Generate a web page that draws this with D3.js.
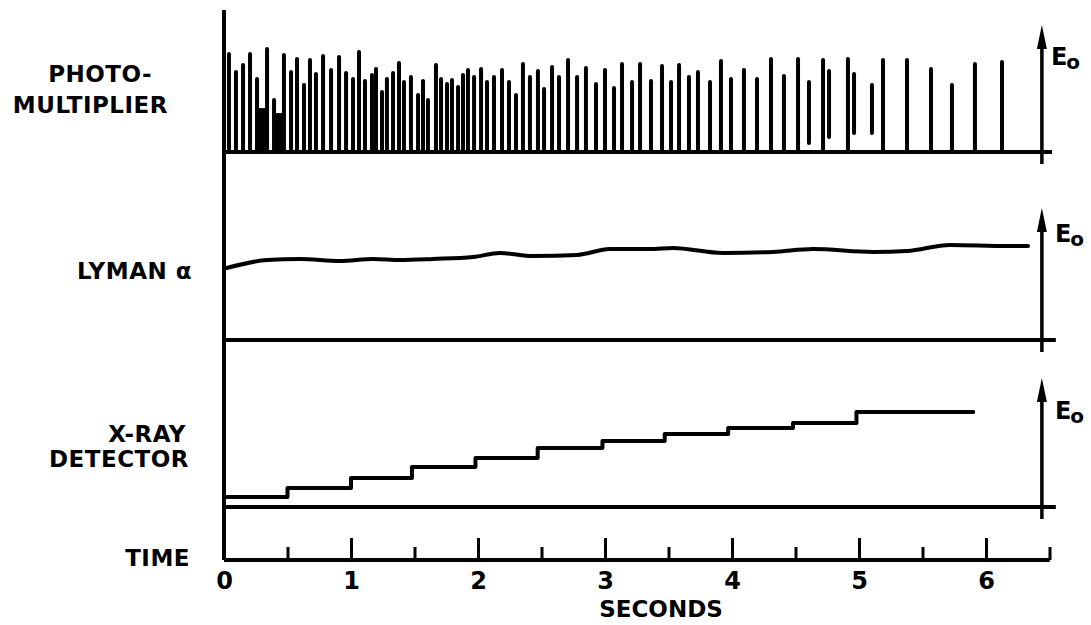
<!DOCTYPE html>
<html>
<head>
<meta charset="utf-8">
<script src="https://cdn.jsdelivr.net/npm/d3@7/dist/d3.min.js"></script>
<style>
  html, body { margin: 0; padding: 0; background: #fff; }
  svg { display: block; }
  text { font-family: "DejaVu Sans", "Liberation Sans", sans-serif; font-weight: bold; fill: #000; }
</style>
</head>
<body>
<svg id="chart" width="1091" height="625"></svg>
<script>
// ---------- DATA ----------
// Photomultiplier pulses: time (s), pulse top (fraction of E0)
const pmTimes = [0.039,0.094,0.150,0.205,0.260,0.276,0.291,0.307,0.323,0.339,0.394,0.417,0.433,0.449,0.465,
  0.472,0.528,0.575,0.630,0.677,0.724,0.780,0.843,0.906,0.961,1.016,1.063,1.110,1.165,1.197,1.244,1.283,1.331,
  1.378,1.417,1.472,1.528,1.567,1.606,1.669,1.709,1.756,1.795,1.843,1.882,1.921,1.969,2.024,2.071,2.126,2.189,
  2.244,2.299,2.354,2.409,2.472,2.520,2.583,2.638,2.709,2.780,2.850,2.929,3.000,3.071,3.134,3.213,3.276,3.362,
  3.449,3.520,3.583,3.661,3.732,3.827,3.913,3.992,4.094,4.197,4.307,4.409,4.520,4.717,4.913,5.189,5.378,5.567,
  5.732,5.913,6.126];
const pmHeights = [0.787,0.646,0.701,0.787,0.591,0.346,0.346,0.346,0.346,0.827,0.425,0.307,0.307,0.307,0.307,
  0.780,0.646,0.748,0.543,0.740,0.630,0.772,0.661,0.764,0.638,0.591,0.803,0.575,0.622,0.669,0.488,0.591,0.638,
  0.717,0.567,0.606,0.465,0.575,0.425,0.701,0.591,0.551,0.583,0.528,0.622,0.661,0.606,0.669,0.567,0.606,0.661,
  0.567,0.465,0.709,0.606,0.654,0.512,0.685,0.606,0.740,0.606,0.677,0.551,0.661,0.520,0.709,0.567,0.709,0.575,
  0.693,0.567,0.701,0.606,0.646,0.567,0.732,0.591,0.661,0.591,0.748,0.614,0.748,0.740,0.748,0.740,0.740,0.669,
  0.543,0.709,0.724];
// Detached (floating) pulse traces: time, top, bottom (fraction of E0)
const pmFloatTimes = [4.606, 4.764, 4.961, 5.102];
const pmFloatTops = [0.551, 0.638, 0.614, 0.528];
const pmFloatBottoms = [0.071, 0.118, 0.150, 0.150];

// Lyman alpha signal
const lyTimes = [0.02,0.339,0.598,0.913,1.173,1.386,1.646,1.961,2.173,2.433,2.780,3.039,3.354,3.535,3.929,
  4.323,4.638,5.110,5.378,5.717,6.165,6.331];
const lyValues = [0.545,0.606,0.614,0.598,0.614,0.606,0.614,0.629,0.659,0.636,0.644,0.689,0.689,0.697,0.659,
  0.667,0.689,0.667,0.674,0.720,0.712,0.712];

// X-ray detector staircase: level start times and levels
const xrTimes = [0.02,0.50,1.00,1.48,1.98,2.47,2.98,3.47,3.97,4.48,4.98,5.90];
const xrValues = [0.078,0.147,0.225,0.310,0.380,0.457,0.512,0.566,0.612,0.651,0.736,0.736];

// Time axis
const majorTicks = [0,1,2,3,4,5,6];
const minorTicks = [0.5,1.5,2.5,3.5,4.5,5.5,6.5];
const tickLabels = ["0","1","2","3","4","5","6"];

const E0_TIME = 6.44;

// ---------- SCALES ----------
const svg = d3.select("#chart");
const x = d3.scaleLinear().domain([0, 6.5]).range([224, 1049.5]);
const yPM = d3.scaleLinear().domain([0, 1]).range([152, 25]);
const yLY = d3.scaleLinear().domain([0, 1]).range([340, 208]);
const yXR = d3.scaleLinear().domain([0, 1]).range([507, 378]);
const axisY = 560;

const ink = "#000";

// main vertical line
svg.append("line").attr("x1", x(0)).attr("x2", x(0)).attr("y1", 10).attr("y2", axisY)
  .attr("stroke", ink).attr("stroke-width", 4);

// panel baselines
[[yPM, 6.52],[yLY, 6.55],[yXR, 6.55]].forEach(([ys, tEnd]) => {
  svg.append("line").attr("x1", x(0)).attr("x2", x(tEnd)).attr("y1", ys(0)).attr("y2", ys(0))
    .attr("stroke", ink).attr("stroke-width", 4);
});

// E0 arrows
function e0Arrow(ys, textDx, textBaselineOffset) {
  const ax = x(E0_TIME);
  const tip = ys(1);
  svg.append("line").attr("x1", ax).attr("x2", ax).attr("y1", tip + 15).attr("y2", ys(0) + 12)
    .attr("stroke", ink).attr("stroke-width", 3.5);
  svg.append("path")
    .attr("d", `M${ax},${tip} L${ax - 5},${tip + 24} L${ax + 5},${tip + 24} Z`)
    .attr("fill", ink);
  const t = svg.append("text").attr("x", ax + textDx).attr("y", tip + textBaselineOffset)
    .attr("font-size", 24);
  t.append("tspan").text("E");
  t.append("tspan").attr("dy", 4).attr("dx", -1).attr("font-size", 20).text("o");
}
e0Arrow(yPM, 9, 40);
e0Arrow(yLY, 13, 34);
e0Arrow(yXR, 13, 41);

// photomultiplier pulses
const pm = pmTimes.map((t, i) => ({t, v: pmHeights[i]}));
svg.append("g").selectAll("line").data(pm).join("line")
  .attr("x1", d => x(d.t)).attr("x2", d => x(d.t))
  .attr("y1", yPM(0)).attr("y2", d => yPM(d.v) + 2)
  .attr("stroke", ink).attr("stroke-width", 4).attr("stroke-linecap", "round");
const pmf = pmFloatTimes.map((t, i) => ({t, top: pmFloatTops[i], bot: pmFloatBottoms[i]}));
svg.append("g").selectAll("line").data(pmf).join("line")
  .attr("x1", d => x(d.t)).attr("x2", d => x(d.t))
  .attr("y1", d => yPM(d.bot)).attr("y2", d => yPM(d.top))
  .attr("stroke", ink).attr("stroke-width", 4).attr("stroke-linecap", "round");

// Lyman alpha
const ly = lyTimes.map((t, i) => ({t, v: lyValues[i]}));
svg.append("path").datum(ly)
  .attr("d", d3.line().x(d => x(d.t)).y(d => yLY(d.v)).curve(d3.curveMonotoneX))
  .attr("fill", "none").attr("stroke", ink).attr("stroke-width", 4).attr("stroke-linecap", "round");

// X-ray staircase
const xr = xrTimes.map((t, i) => ({t, v: xrValues[i]}));
svg.append("path").datum(xr)
  .attr("d", d3.line().x(d => x(d.t)).y(d => yXR(d.v)).curve(d3.curveStepAfter))
  .attr("fill", "none").attr("stroke", ink).attr("stroke-width", 4)
  .attr("stroke-linejoin", "round").attr("stroke-linecap", "round");

// Time axis
const gMajor = svg.append("g").attr("transform", `translate(0,${axisY})`)
  .call(d3.axisTop(x).tickValues(majorTicks).tickSize(22).tickFormat(""));
const gMinor = svg.append("g").attr("transform", `translate(0,${axisY})`)
  .call(d3.axisTop(x).tickValues(minorTicks).tickSize(13).tickFormat(""));
[gMajor, gMinor].forEach(g => {
  g.select(".domain").attr("stroke", ink).attr("stroke-width", 4)
    .attr("d", `M${x(0)},0H${x(6.5)}`);
  g.selectAll(".tick line").attr("stroke", ink).attr("stroke-width", 3);
});
const gLab = svg.append("g").attr("transform", `translate(0,${axisY})`)
  .call(d3.axisBottom(x).tickValues(majorTicks).tickSize(0).tickPadding(12)
    .tickFormat((d, i) => tickLabels[i]));
gLab.select(".domain").remove();
gLab.selectAll("text").attr("font-size", 24).attr("font-family", "DejaVu Sans")
  .attr("font-weight", "bold").attr("fill", ink);

svg.append("text").attr("x", 661).attr("y", 617).attr("text-anchor", "middle")
  .attr("font-size", 23).text("SECONDS");

// Left labels
const labels = [
  {t: "PHOTO-", x: 152, y: 82},
  {t: "MULTIPLIER", x: 168, y: 113},
  {t: "LYMAN α", x: 192, y: 279},
  {t: "X-RAY", x: 186, y: 442},
  {t: "DETECTOR", x: 189, y: 467},
  {t: "TIME", x: 190, y: 566}
];
svg.append("g").selectAll("text").data(labels).join("text")
  .attr("x", d => d.x).attr("y", d => d.y).attr("text-anchor", "end")
  .attr("font-size", 23).attr("letter-spacing", 0.5).text(d => d.t);
</script>
</body>
</html>
